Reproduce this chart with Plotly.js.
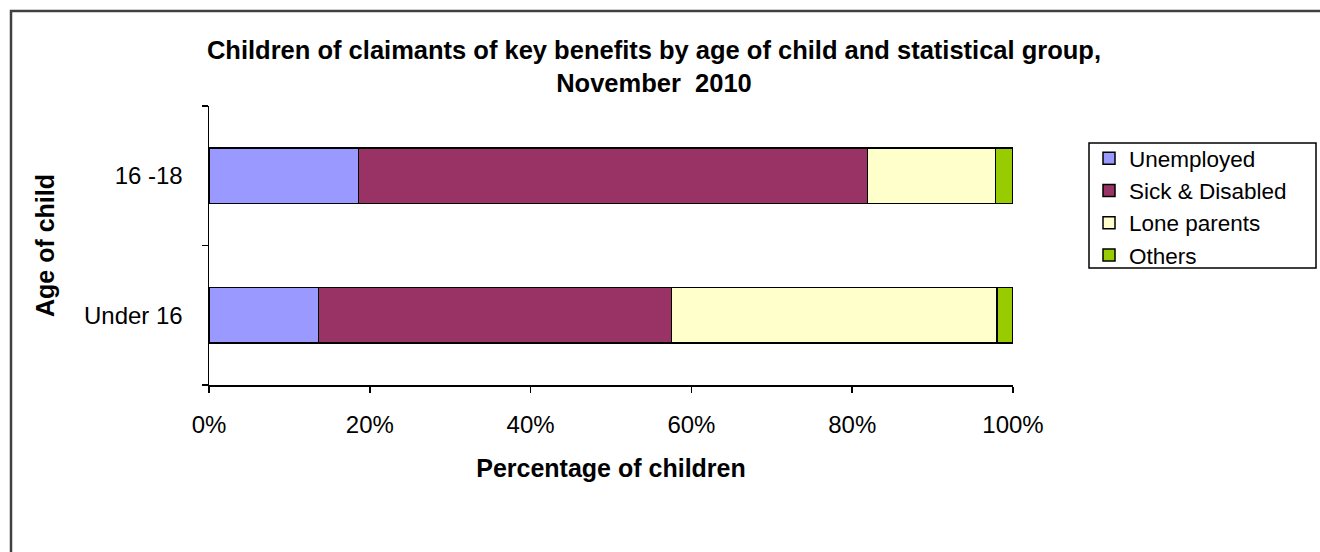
<!DOCTYPE html>
<html>
<head>
<meta charset="utf-8">
<script src="https://cdn.plot.ly/plotly-3.0.1.min.js"></script>
<style>
  html, body { margin: 0; padding: 0; background: #fff; }
  #chart { width: 1320px; height: 552px; }
</style>
</head>
<body>
<div id="chart"></div>
<script>
const categories = ["Under 16", "16 -18"];
const unemployed = [13.6, 18.6];
const sickDisabled = [43.9, 63.3];
const loneParents = [40.5, 15.9];
const others = [2.0, 2.2];
const xTickVals = [0, 20, 40, 60, 80, 100];
const xTickText = ["0%", "20%", "40%", "60%", "80%", "100%"];

const FONT = "Arial, 'Liberation Sans', sans-serif";
const outline = { color: "#000000", width: 1.5 };

// plot area geometry helpers (pixels -> paper)
const PL = 209, PR = 1013, PT = 106, PB = 385;
const px = v => (v - PL) / (PR - PL);
const py = v => (PB - v) / (PB - PT);

function bar(name, values, color) {
  return {
    type: "bar",
    orientation: "h",
    name: name,
    y: categories,
    x: values,
    marker: { color: color, line: outline },
    hoverinfo: "name+x"
  };
}

const data = [
  bar("Unemployed", unemployed, "#9999FF"),
  bar("Sick & Disabled", sickDisabled, "#993366"),
  bar("Lone parents", loneParents, "#FFFFCC"),
  bar("Others", others, "#99CC00")
];

const layout = {
  width: 1320,
  height: 552,
  barmode: "stack",
  bargap: 0.6,
  paper_bgcolor: "#ffffff",
  plot_bgcolor: "#ffffff",
  font: { family: FONT, color: "#000000", size: 24 },
  margin: { l: PL, r: 1320 - PR, t: PT, b: 552 - PB, pad: 0 },
  title: {
    text: "<b>Children of claimants of key benefits by age of child and statistical group,<br>November  2010</b>",
    font: { family: FONT, size: 25.5, color: "#000000" },
    x: 654 / 1320,
    xref: "container",
    xanchor: "center",
    y: 1 - 59 / 552,
    yref: "container",
    yanchor: "middle"
  },
  xaxis: {
    range: [0, 100],
    tickmode: "array",
    tickvals: xTickVals,
    ticktext: xTickText,
    ticks: "outside",
    ticklen: 6,
    tickwidth: 1.5,
    tickcolor: "#000000",
    showline: true,
    linecolor: "#000000",
    linewidth: 1.5,
    showgrid: false,
    zeroline: false,
    ticklabelstandoff: 12,
    tickfont: { family: FONT, size: 24, color: "#000000" },
    title: {
      text: "<b>Percentage of children</b>",
      font: { family: FONT, size: 25, color: "#000000" },
      standoff: 22
    },
    fixedrange: true
  },
  yaxis: {
    type: "category",
    categoryorder: "array",
    categoryarray: categories,
    range: [-0.5, 1.5],
    tickson: "boundaries",
    ticks: "outside",
    ticklen: 6,
    tickwidth: 1.5,
    tickcolor: "#000000",
    showline: true,
    linecolor: "#000000",
    linewidth: 1.5,
    showgrid: false,
    zeroline: false,
    ticklabelstandoff: 20,
    tickfont: { family: FONT, size: 24, color: "#000000" },
    title: {
      text: "<b>Age of child</b>",
      font: { family: FONT, size: 25, color: "#000000" },
      standoff: 22
    },
    fixedrange: true
  },
  legend: {
    x: px(1089),
    y: py(137),
    xanchor: "left",
    yanchor: "top",
    xref: "paper",
    yref: "paper",
    borderwidth: 0,
    bgcolor: "rgba(0,0,0,0)",
    font: { family: FONT, size: 22.5, color: "#000000" },
    traceorder: "normal",
    tracegroupgap: 0
  },
  shapes: [
    {
      type: "path",
      xref: "paper",
      yref: "paper",
      path: `M ${px(11)} ${py(600)} L ${px(11)} ${py(11)} L ${px(1340)} ${py(11)}`,
      line: { color: "#404040", width: 2.5 }
    },
    {
      type: "rect",
      xref: "paper",
      yref: "paper",
      x0: px(1089), x1: px(1316),
      y0: py(268), y1: py(143),
      line: { color: "#000000", width: 1.5 },
      fillcolor: "rgba(0,0,0,0)",
      layer: "above"
    }
  ],
  showlegend: true
};

Plotly.newPlot("chart", data, layout, { displayModeBar: false, staticPlot: true });
</script>
</body>
</html>
